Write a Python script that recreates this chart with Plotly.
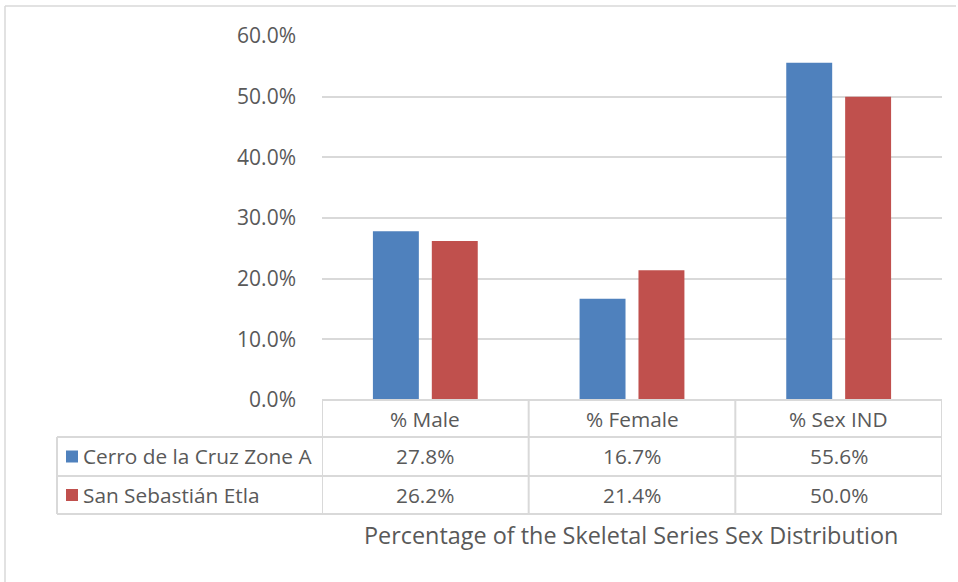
import plotly.graph_objects as go

# Skeletal series sex distribution (fractions)
categories = ["% Male", "% Female", "% Sex IND"]
series_names = ["Cerro de la Cruz Zone A", "San Sebastián Etla"]
cerro_values = [0.278, 0.167, 0.556]
etla_values = [0.262, 0.214, 0.500]
series_colors = ["#4F81BD", "#C0504D"]
y_ticks = [0.0, 0.1, 0.2, 0.3, 0.4, 0.5, 0.6]
chart_title = "Percentage of the Skeletal Series Sex Distribution"

W, H = 958, 582
L, R, T, B = 322, 16, 36, 182
plot_w = W - L - R
plot_h = H - T - B

FONT = "Open Sans"
TEXT = "#595959"
GRID = "#d9d9d9"
TABLE_SIZE = 20.8
TICK_SIZE = 21
TITLE_SIZE = 23.4


def px_x(px):
    return (px - L) / plot_w


def px_y(py):
    return (H - B - py) / plot_h


fig = go.Figure()
for name, vals, col in zip(series_names, [cerro_values, etla_values], series_colors):
    fig.add_trace(go.Bar(x=categories, y=vals, name=name,
                         marker=dict(color=col, line=dict(width=0))))

shapes = []
annotations = []

# outer chart border (top and left edges)
shapes.append(dict(type="line", xref="paper", yref="paper",
                   x0=px_x(5), x1=px_x(956), y0=px_y(6), y1=px_y(6),
                   line=dict(color="#d9d9d9", width=1.5)))
shapes.append(dict(type="line", xref="paper", yref="paper",
                   x0=px_x(5), x1=px_x(5), y0=px_y(6), y1=px_y(582),
                   line=dict(color="#d9d9d9", width=1.5)))

# data table below the plot
row_tops = [400, 437, 476, 514]
left_px = 57
n = len(categories)
for i, yy in enumerate(row_tops):
    shapes.append(dict(type="line", xref="x" if i == 0 else "paper", yref="paper",
                       x0=-0.5 if i == 0 else px_x(left_px),
                       x1=n - 0.5 if i == 0 else 1.0,
                       y0=px_y(yy), y1=px_y(yy),
                       line=dict(color=GRID, width=2)))
for k in range(n + 1):
    shapes.append(dict(type="line", xref="x", yref="paper",
                       x0=k - 0.5, x1=k - 0.5, y0=px_y(400), y1=px_y(514),
                       line=dict(color=GRID, width=2)))
shapes.append(dict(type="line", xref="paper", yref="paper",
                   x0=px_x(left_px), x1=px_x(left_px), y0=px_y(437), y1=px_y(514),
                   line=dict(color=GRID, width=2)))

# header row: category names
for cat in categories:
    annotations.append(dict(x=cat, xref="x", y=px_y(418.5), yref="paper",
                            text=cat, showarrow=False,
                            xanchor="center", yanchor="middle",
                            font=dict(family=FONT, size=TABLE_SIZE, color=TEXT)))

# value rows with legend keys
row_centers = [456.5, 495]
for r, (name, vals, col) in enumerate(zip(series_names, [cerro_values, etla_values], series_colors)):
    yc = row_centers[r]
    shapes.append(dict(type="rect", xref="paper", yref="paper",
                       x0=px_x(66), x1=px_x(78), y0=px_y(yc - 6), y1=px_y(yc + 6),
                       fillcolor=col, line=dict(width=0)))
    annotations.append(dict(x=px_x(81), xref="paper", y=px_y(yc), yref="paper",
                            text=name, showarrow=False,
                            xanchor="left", yanchor="middle",
                            font=dict(family=FONT, size=TABLE_SIZE, color=TEXT)))
    for cat, v in zip(categories, vals):
        annotations.append(dict(x=cat, xref="x", y=px_y(yc), yref="paper",
                                text=f"{v * 100:.1f}%", showarrow=False,
                                xanchor="center", yanchor="middle",
                                font=dict(family=FONT, size=TABLE_SIZE, color=TEXT)))

# axis title under the table
annotations.append(dict(x=px_x(631), xref="paper", y=px_y(535), yref="paper",
                        text=chart_title, showarrow=False,
                        xanchor="center", yanchor="middle",
                        font=dict(family=FONT, size=TITLE_SIZE, color=TEXT)))

fig.update_layout(
    width=W, height=H,
    margin=dict(l=L, r=R, t=T, b=B, pad=0),
    paper_bgcolor="white", plot_bgcolor="white",
    showlegend=False,
    barmode="group", bargap=0.43, bargroupgap=0.22,
    shapes=shapes, annotations=annotations,
    font=dict(family=FONT, color=TEXT),
)
fig.update_xaxes(showticklabels=False, showgrid=False, zeroline=False,
                 showline=False, range=[-0.5, n - 0.5])
fig.update_yaxes(range=[0, 0.6], tickvals=y_ticks, tickformat=".1%",
                 showgrid=True, gridcolor=GRID, gridwidth=1.5,
                 zeroline=False, showline=False,
                 ticklabelstandoff=25,
                 tickfont=dict(family=FONT, size=TICK_SIZE, color=TEXT))

fig.write_html("out.html")
